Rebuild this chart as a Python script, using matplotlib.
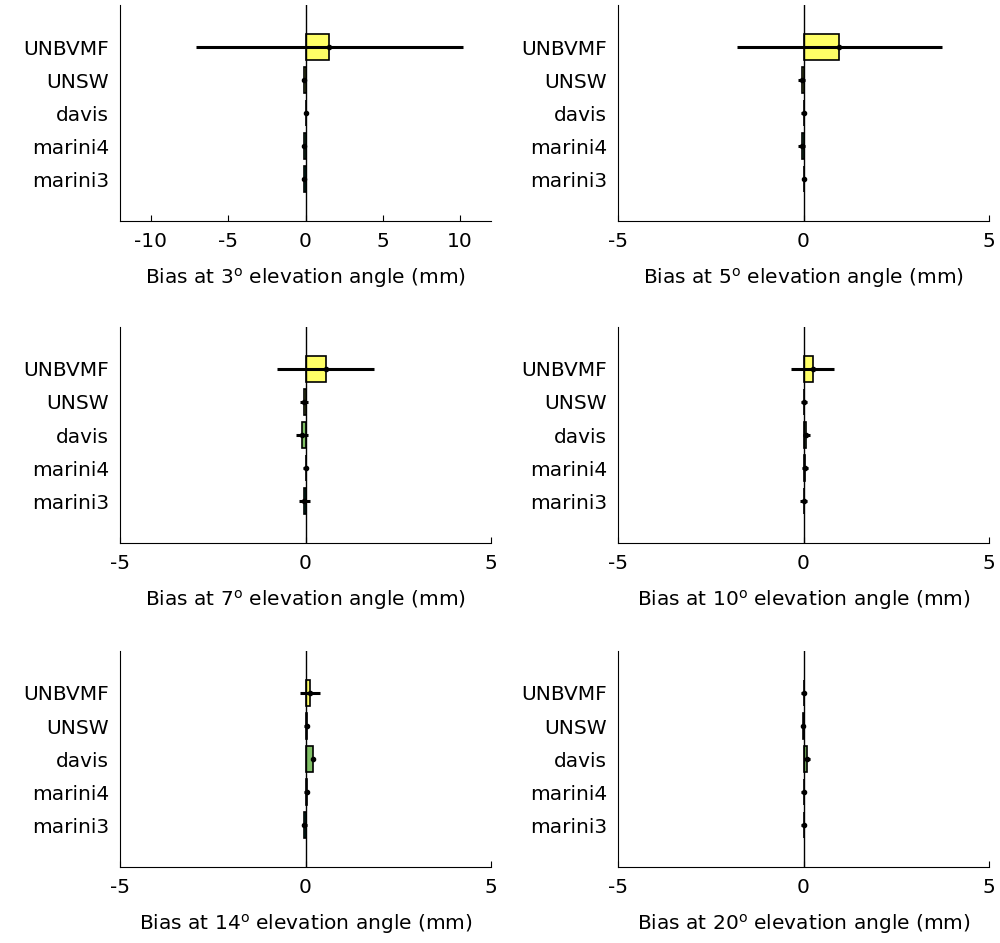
import matplotlib
matplotlib.use("Agg")
import matplotlib.pyplot as plt
import numpy as np

plt.rcParams['font.family'] = ['DejaVu Sans']
plt.rcParams['axes.unicode_minus'] = False

# mapping functions, listed bottom to top as drawn
models = ["marini3", "marini4", "davis", "UNSW", "UNBVMF"]
angles = [3, 5, 7, 10, 14, 20]

# mean bias (mm) per elevation angle, same order as models
bias_3 = [-0.10, -0.10, 0.00, -0.10, 1.55]
bias_5 = [0.00, -0.05, 0.00, -0.05, 0.97]
bias_7 = [-0.03, 0.00, -0.09, -0.04, 0.54]
bias_10 = [0.00, 0.03, 0.08, 0.02, 0.25]
bias_14 = [-0.03, 0.03, 0.19, 0.03, 0.12]
bias_20 = [0.00, 0.00, 0.10, -0.01, 0.00]

# error bar half widths (mm)
err_3 = [0.10, 0.10, 0.10, 0.10, 8.65]
err_5 = [0.05, 0.10, 0.07, 0.10, 2.75]
err_7 = [0.15, 0.06, 0.16, 0.10, 1.30]
err_10 = [0.10, 0.08, 0.10, 0.08, 0.58]
err_14 = [0.06, 0.06, 0.05, 0.06, 0.26]
err_20 = [0.06, 0.06, 0.07, 0.06, 0.06]

all_bias = [bias_3, bias_5, bias_7, bias_10, bias_14, bias_20]
all_err = [err_3, err_5, err_7, err_10, err_14, err_20]
xlims = [(-12, 12), (-5, 5), (-5, 5), (-5, 5), (-5, 5), (-5, 5)]
xticks = [[-10, -5, 0, 5, 10], [-5, 0, 5], [-5, 0, 5], [-5, 0, 5], [-5, 0, 5], [-5, 0, 5]]

colors = plt.cm.summer(np.linspace(0, 1, len(models)))

fig = plt.figure(figsize=(10, 9.43), dpi=100)
lefts = [0.12, 0.618]
bottoms = [0.7656, 0.4242, 0.0806]
w, h = 0.371, 0.229

pos = np.arange(1, len(models) + 1)
for i in range(6):
    ax = fig.add_axes([lefts[i % 2], bottoms[i // 2], w, h])
    ax.barh(pos, all_bias[i], height=0.8, color=colors, edgecolor='k', linewidth=1.2, zorder=2)
    ax.axvline(0, color='k', lw=1, zorder=3)
    ax.errorbar(all_bias[i], pos, xerr=all_err[i], fmt='.', color='k', ms=6,
                elinewidth=2.2, capsize=0, zorder=4)
    ax.set_xlim(*xlims[i])
    ax.set_ylim(-0.27, 6.27)
    ax.set_xticks(xticks[i])
    ax.set_yticks(pos)
    ax.set_yticklabels(models)
    ax.spines['top'].set_visible(False)
    ax.spines['right'].set_visible(False)
    ax.tick_params(axis='x', direction='in', length=4, labelsize=14.5, pad=8)
    ax.tick_params(axis='y', length=0, labelsize=14.5, pad=8)
    ax.set_xlabel(r"Bias at %d$^{\rm o}$ elevation angle (mm)" % angles[i], fontsize=14.5, labelpad=11)

fig.savefig("out.png", dpi=100)
